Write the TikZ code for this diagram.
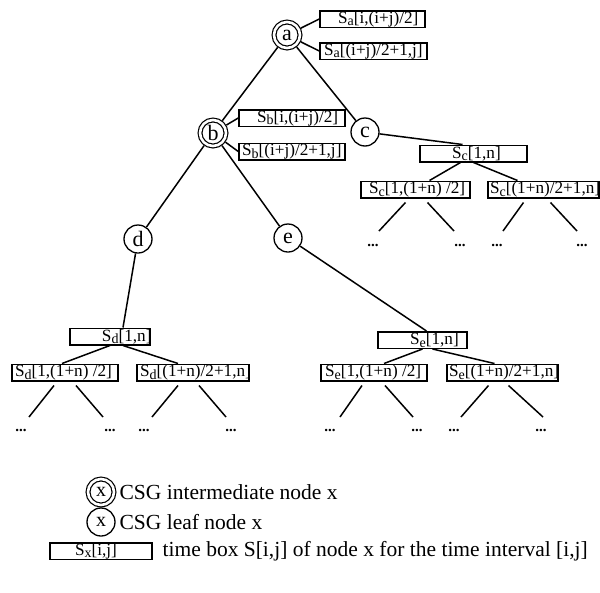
\documentclass[tikz,border=0pt]{standalone}
\usepackage{fontspec}
\setmainfont{Liberation Serif}
\newcommand{\sbs}[1]{\raisebox{-0.3ex}{\fontsize{14}{14}\selectfont #1}}
% name x1 x2 y1 y2 leftpad text
\newcommand{\tbx}[7]{%
  \node[tb] (#1) at ({(#2+#3)/2},{(#4+#5)/2}) {\makebox[\dimexpr #3pt-#2pt\relax][l]{\hspace{#6pt}#7}};}
\begin{document}
\begin{tikzpicture}[x=1pt,y=-1pt,
  line width=1.3pt,
  tb/.style={draw, line width=1.5pt, inner xsep=0pt, inner ysep=0pt, minimum height=16.5pt,
             font=\fontsize{17.2}{18}\selectfont},
  inode/.style={circle, draw, double, double distance=2.6pt, line width=1.2pt, minimum size=26pt,
                inner sep=0pt, outer sep=2.5pt, font=\fontsize{22}{22}\selectfont},
  lnode/.style={circle, draw, line width=1.3pt, minimum size=28pt, inner sep=0pt,
                font=\fontsize{22}{22}\selectfont},
  dots/.style={inner sep=0pt, font=\fontsize{15}{15}\selectfont\bfseries},
  legtext/.style={anchor=west, inner sep=0pt, font=\fontsize{21.5}{22}\selectfont},
  conn/.style={line width=1.5pt}
]
\useasboundingbox[fill=white] (0,0) rectangle (600,592);

% CSG nodes
\node[inode] (a) at (287,35) {a};
\node[inode] (b) at (213,133) {b};
\node[lnode] (c) at (365,132) {c};
\node[lnode] (d) at (138,239) {d};
\node[lnode] (e) at (288,238) {e};

% time boxes
\tbx{sa1}{320}{425}{11}{27}{18}{S\sbs{a}[i,(i+j)/2]}
\tbx{sa2}{320}{427}{43}{59}{4}{S\sbs{a}[(i+j)/2+1,j]}
\tbx{sb1}{239}{345}{110}{126}{18}{S\sbs{b}[i,(i+j)/2]}
\tbx{sb2}{239}{345}{143}{160}{3}{S\sbs{b}[(i+j)/2+1,j]}
\tbx{sc}{420}{527}{145}{162}{32}{S\sbs{c}[1,n]}
\tbx{sc1}{361}{470}{181}{198}{8}{S\sbs{c}[1,(1+n) /2]}
\tbx{sc2}{488}{599}{181}{198}{2}{S\sbs{c}[(1+n)/2+1,n]}
\tbx{sd}{70}{150}{328}{345}{32}{S\sbs{d}[1,n]}
\tbx{sd1}{12}{118}{364}{381}{3}{S\sbs{d}[1,(1+n) /2]}
\tbx{sd2}{137}{249}{364}{381}{3}{S\sbs{d}[(1+n)/2+1,n]}
\tbx{se}{378}{467}{332}{348}{32}{S\sbs{e}[1,n]}
\tbx{se1}{321}{427}{364}{381}{4}{S\sbs{e}[1,(1+n) /2]}
\tbx{se2}{447}{558}{364}{381}{2}{S\sbs{e}[(1+n)/2+1,n]}

% tree connectors
\draw[conn] (a) -- (b);
\draw[conn] (a) -- (c);
\draw[conn] (a) -- (sa1.west);
\draw[conn] (a) -- (sa2.west);
\draw[conn] (b) -- (sb1.west);
\draw[conn] (b) -- (sb2.west);
\draw[conn] (b) -- (d);
\draw[conn] (b) -- (e);
\draw[conn] (c) -- ([xshift=-11pt]sc.north);
\draw[conn] (d) -- ([xshift=13pt]sd.north);
\draw[conn] (e) -- ([xshift=4pt]se.north);
\draw[conn] ([xshift=-13pt]sc.south) -- ([xshift=14pt]sc1.north);
\draw[conn] (sc.south) -- ([xshift=-26pt]sc2.north);
\draw[conn] (sd.south) -- ([xshift=-3pt]sd1.north);
\draw[conn] ([xshift=13pt]sd.south) -- ([xshift=-15pt]sd2.north);
\draw[conn] (se.south) -- ([xshift=10pt]se1.north);
\draw[conn] ([xshift=10pt]se.south) -- ([xshift=-8pt]se2.north);

% open branches
\coordinate (sc1l) at (379,231); \coordinate (sc1r) at (454,231);
\coordinate (sc2l) at (503,231); \coordinate (sc2r) at (577,231);
\draw[conn] ([xshift=-10pt,yshift=-4pt]sc1.south) -- (sc1l);
\draw[conn] ([xshift=12pt,yshift=-4pt]sc1.south) -- (sc1r);
\draw[conn] ([xshift=-20pt,yshift=-4pt]sc2.south) -- (sc2l);
\draw[conn] ([xshift=7pt,yshift=-4pt]sc2.south) -- (sc2r);

\coordinate (sd1l) at (29,417); \coordinate (sd1r) at (103,417);
\coordinate (sd2l) at (152,417); \coordinate (sd2r) at (226,417);
\coordinate (se1l) at (340,417); \coordinate (se1r) at (413,417);
\coordinate (se2l) at (461,417); \coordinate (se2r) at (543,417);
\draw[conn] ([xshift=-11pt,yshift=-4pt]sd1.south) -- (sd1l);
\draw[conn] ([xshift=11pt,yshift=-4pt]sd1.south) -- (sd1r);
\draw[conn] ([xshift=-15pt,yshift=-4pt]sd2.south) -- (sd2l);
\draw[conn] ([xshift=6pt,yshift=-4pt]sd2.south) -- (sd2r);
\draw[conn] ([xshift=-12pt,yshift=-4pt]se1.south) -- (se1l);
\draw[conn] ([xshift=11pt,yshift=-4pt]se1.south) -- (se1r);
\draw[conn] ([xshift=-14pt,yshift=-4pt]se2.south) -- (se2l);
\draw[conn] ([xshift=6pt,yshift=-4pt]se2.south) -- (se2r);

% dots
\node[dots] (x1) at (373,245) {...};
\node[dots] (x2) at (460,245) {...};
\node[dots] (x3) at (497,245) {...};
\node[dots] (x4) at (582,245) {...};
\node[dots] (y1) at (21,430) {...};
\node[dots] (y2) at (110,430) {...};
\node[dots] (y3) at (144,430) {...};
\node[dots] (y4) at (231,430) {...};
\node[dots] (y5) at (330,430) {...};
\node[dots] (y6) at (417,430) {...};
\node[dots] (y7) at (454,430) {...};
\node[dots] (y8) at (541,430) {...};

% legend
\node[inode, font=\fontsize{20}{20}\selectfont] (li) at (101,492) {x};
\node[legtext] (lit) at (119,492) {CSG intermediate node x};
\node[lnode, font=\fontsize{20}{20}\selectfont] (ll) at (101,522) {x};
\node[legtext] (llt) at (119,522) {CSG leaf node x};
\tbx{lb}{50}{152}{543}{559}{25}{S\sbs{x}[i,j]}
\node[legtext] (lbt) at (162,551) {time box S[i,j] of node x for the time interval [i,j]};
\end{tikzpicture}
\end{document}
